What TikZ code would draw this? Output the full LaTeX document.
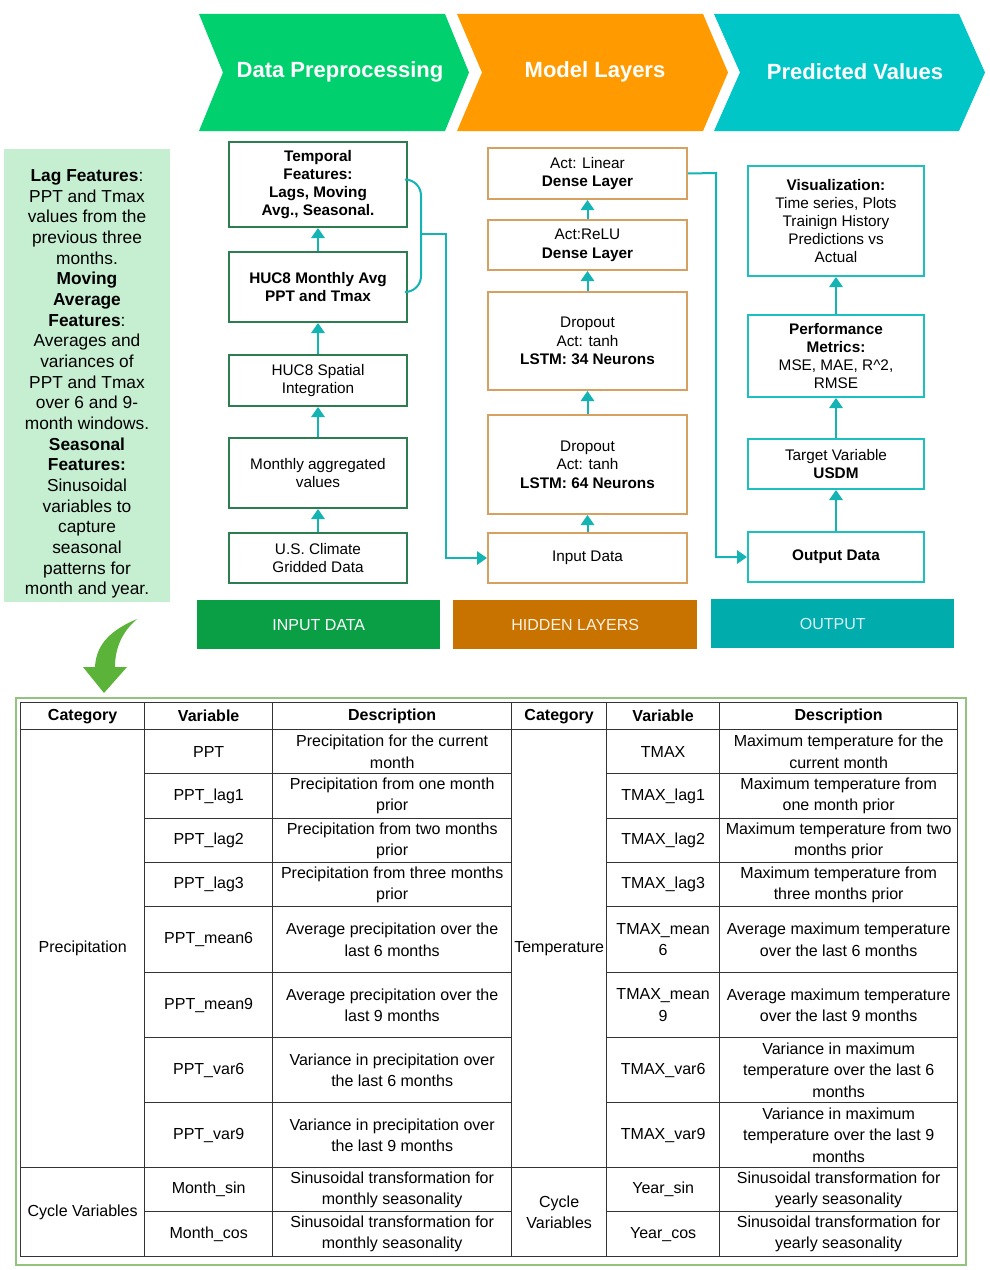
\documentclass[tikz,border=0pt]{standalone}
\usepackage{fontspec}
\setmainfont{Liberation Sans}
\usepackage{tikz}
\newcommand{\pxu}{0.75pt}
\usetikzlibrary{positioning,calc,arrows.meta}
\definecolor{chevgreen}{HTML}{00D06E}
\definecolor{chevorange}{HTML}{FF9A00}
\definecolor{chevteal}{HTML}{00C6C8}
\definecolor{notegreen}{HTML}{C6EFD2}
\definecolor{inputgreen}{HTML}{2E7D50}
\definecolor{hiddenorange}{HTML}{D6A060}
\definecolor{outputteal}{HTML}{1CC0C0}
\definecolor{linkteal}{HTML}{14B4B4}
\definecolor{bandgreen}{HTML}{0A9E45}
\definecolor{bandorange}{HTML}{C87200}
\definecolor{bandteal}{HTML}{00ACAC}
\definecolor{framegreen}{HTML}{93C47D}
\definecolor{arrowgreen}{HTML}{5BB33A}
\definecolor{tablegray}{HTML}{333333}
\tikzstyle{flow_box}=[rectangle, draw, line width=1.5pt, fill=white, anchor=north west, align=center, inner sep=0pt, font=\fontsize{11.5}{13.5}\selectfont]
\tikzstyle{input_box}=[flow_box, draw=inputgreen, minimum width=178*\pxu]
\tikzstyle{hidden_box}=[flow_box, draw=hiddenorange, minimum width=199*\pxu, font=\fontsize{11.5}{14}\selectfont]
\tikzstyle{output_box}=[flow_box, draw=outputteal, minimum width=176*\pxu]
\tikzstyle{stage_band}=[rectangle, anchor=north west, minimum height=49*\pxu, minimum width=243*\pxu, font=\fontsize{12}{14}\selectfont]
\tikzstyle{stage_label}=[text=white, font=\fontsize{16.5}{18}\selectfont\bfseries]
\tikzstyle{flow_arrow}=[draw=linkteal, line width=1.5pt, -{Triangle[width=10pt,length=7.5pt]}]
\tikzstyle{bracket_line}=[draw=linkteal, line width=1.5pt]
\tikzstyle{table_cell}=[rectangle, draw=tablegray, line width=1pt, anchor=north west, align=center, inner sep=0pt, font=\fontsize{12}{16}\selectfont]
\tikzstyle{table_head}=[table_cell, minimum height=27*\pxu, font=\fontsize{12}{16}\selectfont\bfseries]

\begin{document}
\begin{tikzpicture}[x=0.75pt,y=-0.75pt]

            \path[fill=white,use as bounding box] (0,0) rectangle (989,1270);

            % Stage chevrons
            \fill[chevgreen] (199,14) -- (445,14) -- (469,72.5) -- (445,131) -- (199,131) -- (223,72.5) -- cycle;
            \fill[chevorange] (457,14) -- (703,14) -- (728,72.5) -- (703,131) -- (457,131) -- (482,72.5) -- cycle;
            \fill[chevteal] (714,14) -- (959,14) -- (985,72.5) -- (959,131) -- (714,131) -- (740,72.5) -- cycle;
            \node[stage_label] (stage_prep) at (340,72) {Data Preprocessing};
            \node[stage_label] (stage_model) at (595,72) {Model Layers};
            \node[stage_label] (stage_pred) at (855,72) {Predicted Values};

            % Feature notes
            \node[rectangle, fill=notegreen, anchor=north west, minimum width=166*\pxu, minimum height=453*\pxu] (feature_panel) at (4,149) {};
            \node[align=center, inner sep=0pt, font=\fontsize{13}{15.5}\selectfont] (feature_notes) at (87,384) {\textbf{Lag Features}:\\PPT and Tmax\\values from the\\previous three\\months.\\\textbf{Moving}\\\textbf{Average}\\\textbf{Features}:\\Averages and\\variances of\\PPT and Tmax\\over 6 and 9-\\month windows.\\\textbf{Seasonal}\\\textbf{Features:}\\Sinusoidal\\variables to\\capture\\seasonal\\patterns for\\month and year.};
            \fill[arrowgreen] (137,619) .. controls (106,632) and (96,648) .. (95,667) -- (83,667) -- (104,693) -- (127,667) -- (115,667) .. controls (115,648) and (122,632) .. (137,619) -- cycle;

            % Input data column
            \node[input_box,minimum height=85*\pxu] (temporal) at (228,141) {\textbf{Temporal}\\\textbf{Features:}\\\textbf{Lags, Moving}\\\textbf{Avg., Seasonal.}};
            \node[input_box,minimum height=70*\pxu] (huc_avg) at (228,251) {\textbf{HUC8 Monthly Avg}\\\textbf{PPT and Tmax}};
            \node[input_box,minimum height=51*\pxu] (huc_spatial) at (228,354) {HUC8 Spatial\\Integration};
            \node[input_box,minimum height=70*\pxu] (monthly_agg) at (228,437) {Monthly aggregated\\values};
            \node[input_box,minimum height=50*\pxu] (climate_data) at (228,532) {U.S. Climate\\Gridded Data};
            \draw[flow_arrow] (climate_data.north) -- (monthly_agg.south);
            \draw[flow_arrow] (monthly_agg.north) -- (huc_spatial.south);
            \draw[flow_arrow] (huc_spatial.north) -- (huc_avg.south);
            \draw[flow_arrow] (huc_avg.north) -- (temporal.south);

            % Hidden layers column
            \node[hidden_box,minimum height=51*\pxu] (dense_linear) at (487,147) {Act: Linear\\\textbf{Dense Layer}};
            \node[hidden_box,minimum height=50*\pxu] (dense_relu) at (487,219) {Act:ReLU\\\textbf{Dense Layer}};
            \node[hidden_box,minimum height=98*\pxu] (lstm_34) at (487,291) {Dropout\\Act: tanh\\\textbf{LSTM: 34 Neurons}};
            \node[hidden_box,minimum height=99*\pxu] (lstm_64) at (487,414) {Dropout\\Act: tanh\\\textbf{LSTM: 64 Neurons}};
            \node[hidden_box,minimum height=50*\pxu] (input_data) at (487,532) {Input Data};
            \draw[flow_arrow] (input_data.north) -- (lstm_64.south);
            \draw[flow_arrow] (lstm_64.north) -- (lstm_34.south);
            \draw[flow_arrow] (lstm_34.north) -- (dense_relu.south);
            \draw[flow_arrow] (dense_relu.north) -- (dense_linear.south);

            % Output column
            \node[output_box,minimum height=110*\pxu] (visualization) at (747,165) {\textbf{Visualization:}\\Time series, Plots\\Trainign History\\Predictions vs\\Actual};
            \node[output_box,minimum height=82*\pxu] (performance) at (747,314) {\textbf{Performance}\\\textbf{Metrics:}\\MSE, MAE, R\^{}2,\\RMSE};
            \node[output_box,minimum height=50*\pxu] (target_var) at (747,438) {Target Variable\\\textbf{USDM}};
            \node[output_box,minimum height=50*\pxu] (output_data) at (747,531) {\textbf{Output Data}};
            \draw[flow_arrow] (output_data.north) -- (target_var.south);
            \draw[flow_arrow] (target_var.north) -- (performance.south);
            \draw[flow_arrow] (performance.north) -- (visualization.south);

            % Links between columns
            \coordinate (join) at (421,234);
            \coordinate (feed) at (446,234);
            \coordinate (route) at (716,173);
            \draw[bracket_line,rounded corners=12] ($(temporal.east)+(0,-5)$) -| (join) |- ($(huc_avg.east)+(0,5)$);
            \draw[flow_arrow] (join) -- (feed) |- (input_data.west);
            \draw[flow_arrow] (dense_linear.east) -- (route) |- (output_data.west);

            % Stage bands
            \node[stage_band,fill=bandgreen,text=white] (band_input) at (197,600) {INPUT DATA};
            \node[stage_band,fill=bandorange,text=white!90!orange,minimum width=244*\pxu] (band_hidden) at (453,600) {HIDDEN LAYERS};
            \node[stage_band,fill=bandteal,text=cyan!15] (band_output) at (711,599) {OUTPUT};

            % Variables table
            \node[rectangle, draw=framegreen, line width=1.5pt, anchor=north west, minimum width=950*\pxu, minimum height=567*\pxu] (table_frame) at (15,697) {};
            \node[table_head,minimum width=124*\pxu] (head_cat_p) at (20,702) {Category};
            \node[table_head,minimum width=128*\pxu] (head_var_p) at (144,702) {Variable};
            \node[table_head,minimum width=239*\pxu] (head_desc_p) at (272,702) {Description};
            \node[table_head,minimum width=95*\pxu] (head_cat_t) at (511,702) {Category};
            \node[table_head,minimum width=113*\pxu] (head_var_t) at (606,702) {Variable};
            \node[table_head,minimum width=238*\pxu] (head_desc_t) at (719,702) {Description};
            \node[table_cell,minimum width=124*\pxu,minimum height=438*\pxu] (cat_precip) at (20,729) {Precipitation};
            \node[table_cell,minimum width=124*\pxu,minimum height=89*\pxu] (cat_cycle_p) at (20,1167) {Cycle Variables};
            \node[table_cell,minimum width=95*\pxu,minimum height=438*\pxu] (cat_temp) at (511,729) {Temperature};
            \node[table_cell,minimum width=95*\pxu,minimum height=89*\pxu] (cat_cycle_t) at (511,1167) {Cycle\\Variables};
            \foreach \rtop/\rh/\pvar/\pdesc/\tvar/\tdesc [count=\r] in {
                729/44/PPT/{Precipitation for the current\\month}/TMAX/{Maximum temperature for the\\current month},
                773/45/PPT\_lag1/{Precipitation from one month\\prior}/TMAX\_lag1/{Maximum temperature from\\one month prior},
                818/44/PPT\_lag2/{Precipitation from two months\\prior}/TMAX\_lag2/{Maximum temperature from two\\months prior},
                862/44/PPT\_lag3/{Precipitation from three months\\prior}/TMAX\_lag3/{Maximum temperature from\\three months prior},
                906/66/PPT\_mean6/{Average precipitation over the\\last 6 months}/{TMAX\_mean\\6}/{Average maximum temperature\\over the last 6 months},
                972/65/PPT\_mean9/{Average precipitation over the\\last 9 months}/{TMAX\_mean\\9}/{Average maximum temperature\\over the last 9 months},
                1037/65/PPT\_var6/{Variance in precipitation over\\the last 6 months}/TMAX\_var6/{Variance in maximum\\temperature over the last 6\\months},
                1102/65/PPT\_var9/{Variance in precipitation over\\the last 9 months}/TMAX\_var9/{Variance in maximum\\temperature over the last 9\\months},
                1167/44/Month\_sin/{Sinusoidal transformation for\\monthly seasonality}/Year\_sin/{Sinusoidal transformation for\\yearly seasonality},
                1211/45/Month\_cos/{Sinusoidal transformation for\\monthly seasonality}/Year\_cos/{Sinusoidal transformation for\\yearly seasonality}}{
                \node[table_cell,minimum width=128*\pxu,minimum height=\rh*\pxu] (pvar\r) at (144,\rtop) {\pvar};
                \node[table_cell,minimum width=239*\pxu,minimum height=\rh*\pxu] (pdesc\r) at (272,\rtop) {\pdesc};
                \node[table_cell,minimum width=113*\pxu,minimum height=\rh*\pxu] (tvar\r) at (606,\rtop) {\tvar};
                \node[table_cell,minimum width=238*\pxu,minimum height=\rh*\pxu] (tdesc\r) at (719,\rtop) {\tdesc};
            }

\end{tikzpicture}
\end{document}
